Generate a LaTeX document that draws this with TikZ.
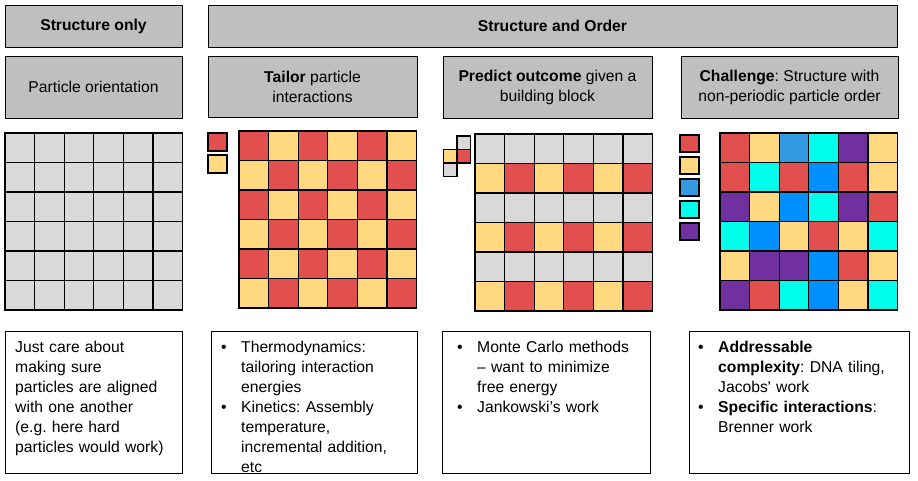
\documentclass[tikz,border=0pt]{standalone}
\usepackage{fontspec}
\setmainfont{Liberation Sans}
\frenchspacing

\definecolor{hdrgray}{HTML}{BFBFBF}
\definecolor{tg}{HTML}{D9D9D9}
\definecolor{tr}{HTML}{E24F4F}
\definecolor{ty}{HTML}{FFD880}
\definecolor{tl}{HTML}{3399E0}
\definecolor{tb}{HTML}{008FFF}
\definecolor{tc}{HTML}{00FFEA}
\definecolor{tp}{HTML}{7030A0}

\tikzset{
  hdr/.style={draw, fill=hdrgray, line width=0.9pt, align=center, inner sep=0pt},
  txtbox/.style={draw, line width=0.9pt, inner sep=0pt},
  txt/.style={anchor=north west, inner sep=0pt, align=left},
  cell/.style={draw, line width=1.2pt},
}

% 6x6 rejilla de baldosas
\newcommand{\tilegrid}[3]{%
  \foreach \c [count=\n from 0] in {#3} {
    \pgfmathtruncatemacro{\cx}{mod(\n,6)}
    \pgfmathtruncatemacro{\cy}{div(\n,6)}
    \draw[cell, fill=\c] (#1+\cx*29.6, #2+\cy*29.5) rectangle ++(29.6,29.5);
  }}
\newcommand{\bitem}{\hangindent=20pt\hangafter=1\makebox[20pt][l]{\textbullet}}

\begin{document}
\begin{tikzpicture}[x=1pt, y=-1pt, font=\fontsize{15.7}{20}\selectfont]
\useasboundingbox (0,0) rectangle (918,480);

% Encabezados
\node[hdr, minimum width=177pt, minimum height=42pt] (sonly) at (93.5,26) {\bfseries Structure only};
\node[hdr, minimum width=689pt, minimum height=42pt] (sorder) at (552.5,26) {\bfseries Structure and Order};
\node[hdr, minimum width=177pt, minimum height=62pt] (orient) at (93.5,87) {Particle orientation};
\node[hdr, minimum width=209pt, minimum height=61pt] (tailor) at (312.5,86.5) {\textbf{Tailor} particle\\interactions};
\node[hdr, minimum width=209pt, minimum height=62pt] (predict) at (547.5,87) {\textbf{Predict outcome} given a\\building block};
\node[hdr, minimum width=217pt, minimum height=62pt] (challenge) at (789.5,87) {\textbf{Challenge}: Structure with\\non-periodic particle order};

% Rejillas
\tilegrid{5}{133}{tg,tg,tg,tg,tg,tg, tg,tg,tg,tg,tg,tg, tg,tg,tg,tg,tg,tg,
                  tg,tg,tg,tg,tg,tg, tg,tg,tg,tg,tg,tg, tg,tg,tg,tg,tg,tg}
\tilegrid{239}{131}{tr,ty,tr,ty,tr,ty, ty,tr,ty,tr,ty,tr, tr,ty,tr,ty,tr,ty,
                    ty,tr,ty,tr,ty,tr, tr,ty,tr,ty,tr,ty, ty,tr,ty,tr,ty,tr}
\tilegrid{475}{134}{tg,tg,tg,tg,tg,tg, ty,tr,ty,tr,ty,tr, tg,tg,tg,tg,tg,tg,
                    ty,tr,ty,tr,ty,tr, tg,tg,tg,tg,tg,tg, ty,tr,ty,tr,ty,tr}
\tilegrid{720}{133}{tr,ty,tl,tc,tp,ty, tr,tc,tr,tb,tr,ty, tp,ty,tb,tc,tp,tr,
                    tc,tb,ty,tr,ty,tc, ty,tp,tp,tb,tr,ty, tp,tr,tc,tb,ty,tc}

% Baldosas sueltas
\begin{scope}[cell]
    \draw[fill=tr] (208,133) rectangle (227,151);
    \draw[fill=ty] (208,155) rectangle (227,173);
    \draw[fill=tg] (457,136) rectangle (470.5,149.5);
    \draw[fill=ty] (443.5,149.5) rectangle (457,163);
    \draw[fill=tr] (457,149.5) rectangle (470.5,163);
    \draw[fill=tg] (443.5,163) rectangle (457,176.5);
    \foreach \c [count=\n from 0] in {tr,ty,tl,tc,tp}
        \draw[fill=\c] (680,135+\n*22) rectangle ++(19,17);
\end{scope}

% Cajas de texto
\node[txtbox, minimum width=177pt, minimum height=142pt] (sonlybox) at (93.5,402) {};
\node[txtbox, minimum width=206pt, minimum height=142pt] (tailorbox) at (314,402) {};
\node[txtbox, minimum width=208pt, minimum height=142pt] (predictbox) at (546,402) {};
\node[txtbox, minimum width=220pt, minimum height=142pt] (challengebox) at (799,402) {};

\node[txt, text width=165pt] (sonlytxt) at (15,341)
    {Just care about\\making sure\\particles are aligned\\with one another\\(e.g. here hard\\particles would work)};
\node[txt, text width=190pt] (tailortxt) at (221,341)
    {\raggedright
     \bitem Thermodynamics:\newline tailoring interaction\newline energies\par
     \bitem Kinetics: Assembly\newline temperature,\newline incremental addition,\newline etc\par};
\node[txt, text width=190pt] (predicttxt) at (457,341)
    {\raggedright
     \bitem Monte Carlo methods\newline -- want to minimize\newline free energy\par
     \bitem Jankowski’s work\par};
\node[txt, text width=205pt] (challengetxt) at (698,341)
    {\raggedright
     \bitem \textbf{Addressable}\newline \textbf{complexity}: DNA tiling,\newline Jacobs\textquotesingle\ work\par
     \bitem \textbf{Specific interactions}:\newline Brenner work\par};
\end{tikzpicture}
\end{document}
